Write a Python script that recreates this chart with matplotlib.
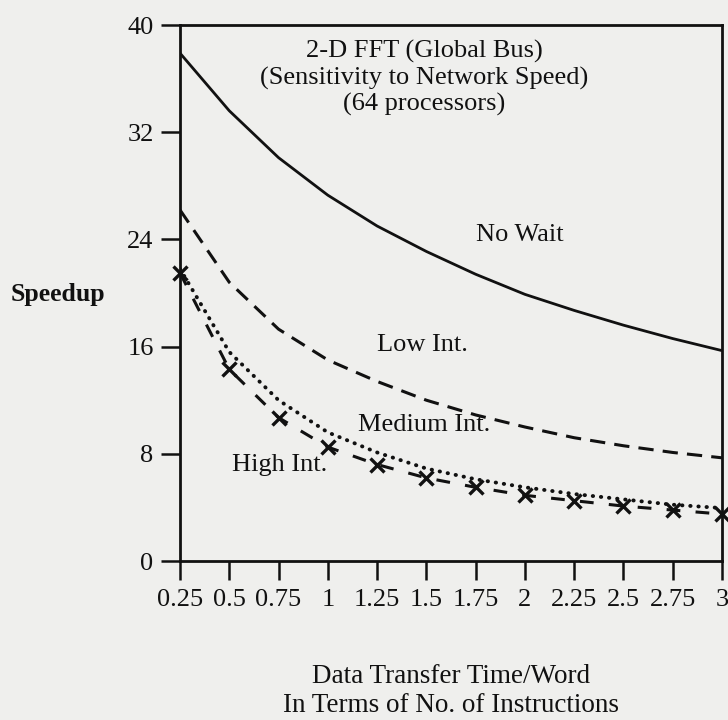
import matplotlib
matplotlib.use("Agg")
import matplotlib.pyplot as plt

plt.rcParams['font.family'] = ['Liberation Serif', 'DejaVu Serif']

x_vals = [0.25, 0.5, 0.75, 1.0, 1.25, 1.5, 1.75, 2.0, 2.25, 2.5, 2.75, 3.0]
x_labels = ["0.25", "0.5", "0.75", "1", "1.25", "1.5", "1.75", "2", "2.25", "2.5", "2.75", "3"]
no_wait = [37.9, 33.6, 30.1, 27.3, 25.0, 23.1, 21.4, 19.9, 18.7, 17.6, 16.6, 15.7]
low_int = [26.2, 20.8, 17.3, 15.0, 13.4, 12.0, 10.9, 10.0, 9.2, 8.6, 8.1, 7.7]
medium_int = [21.8, 15.6, 12.0, 9.6, 8.1, 6.9, 6.1, 5.5, 5.0, 4.6, 4.2, 3.95]
high_int = [21.5, 14.3, 10.7, 8.5, 7.2, 6.2, 5.5, 4.9, 4.5, 4.1, 3.8, 3.5]
y_ticks = [0, 8, 16, 24, 32, 40]

bg = '#efefed'
ink = '#111111'

fig = plt.figure(figsize=(7.28, 7.2), dpi=100, facecolor=bg)
ax = fig.add_axes([180/728, 1-561/720, 542/728, 536/720])
ax.set_facecolor(bg)

ax.plot(x_vals, no_wait, color=ink, lw=2.0, solid_capstyle='butt')
ax.plot(x_vals, low_int, color=ink, lw=2.2, linestyle=(0, (5, 3)))
ax.plot(x_vals, medium_int, color=ink, lw=2.8, linestyle=(0, (0.1, 2.0)),
        dash_capstyle='round')
ax.plot(x_vals, high_int, color=ink, lw=2.2, linestyle=(0, (4.5, 5)),
        marker='x', markersize=10, markeredgewidth=2.4, clip_on=False)

ax.set_xlim(0.25, 3.0)
ax.set_ylim(0, 40)
ax.set_xticks(x_vals)
ax.set_xticklabels(x_labels)
ax.set_yticks(y_ticks)
ax.tick_params(direction='out', length=14, width=1.8, colors=ink,
               labelsize=19)
ax.tick_params(axis='x', pad=6)
ax.tick_params(axis='y', pad=5)
for s in ax.spines.values():
    s.set_linewidth(2.0)
    s.set_color(ink)

ax.text(0.45, (561-78)/536, "2-D FFT (Global Bus)\n(Sensitivity to Network Speed)\n(64 processors)",
        transform=ax.transAxes, ha='center', va='center', fontsize=19,
        linespacing=1.18, color=ink)

ax.text(1.976, 24.3, "No Wait", ha='center', va='center', fontsize=19, color=ink)
ax.text(1.478, 16.1, "Low Int.", ha='center', va='center', fontsize=19, color=ink)
ax.text(1.489, 10.15, "Medium Int.", ha='center', va='center', fontsize=19, color=ink)
ax.text(0.758, 7.16, "High Int.", ha='center', va='center', fontsize=19, color=ink)

fig.text(58/728, 1-294/720, "Speedup", ha='center', va='center', fontsize=18.5,
         fontweight='bold', color=ink)
fig.text(451/728, 1-691/720, "Data Transfer Time/Word\nIn Terms of No. of Instructions",
         ha='center', va='center', fontsize=19.5, linespacing=1.18, color=ink)

fig.savefig("out.png", dpi=100, facecolor=bg)
